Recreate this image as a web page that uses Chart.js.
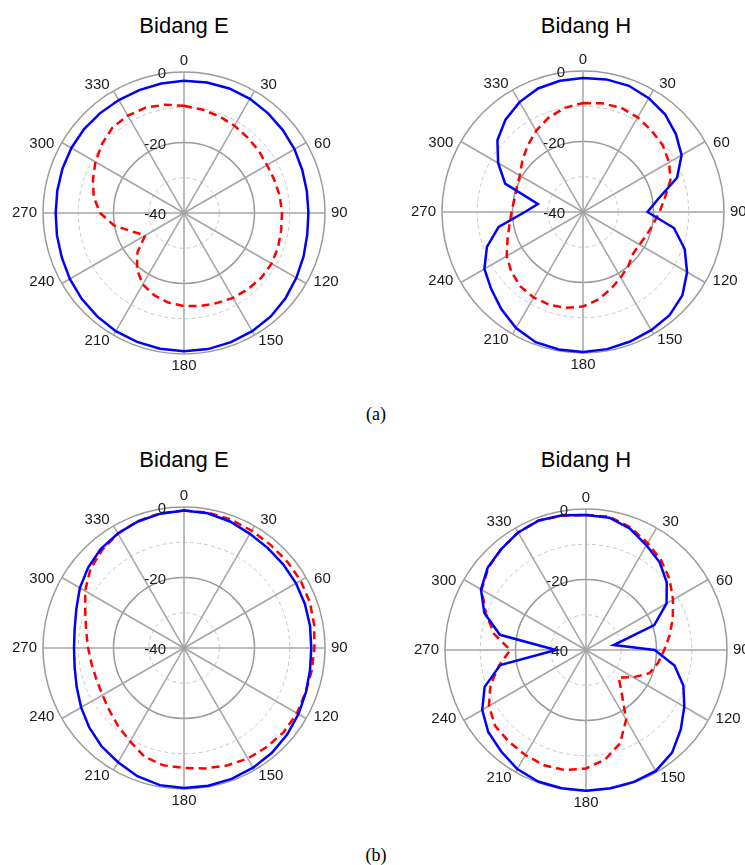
<!DOCTYPE html>
<html>
<head>
<meta charset="utf-8">
<script src="https://cdn.jsdelivr.net/npm/chart.js@4.4.0/dist/chart.umd.min.js"></script>
<style>
html, body { margin: 0; padding: 0; background: #fff; }
#page { position: relative; width: 745px; height: 865px; overflow: hidden; }
#page canvas { position: absolute; }
.title { position: absolute; font-family: "Liberation Sans", Arial, sans-serif; font-size: 22px; color: #000; transform: translate(-50%, -50%); white-space: nowrap; }
.cap { position: absolute; font-family: "Liberation Serif", "Times New Roman", serif; font-size: 18px; color: #000; transform: translate(-50%, -50%); }
</style>
</head>
<body>
<div id="page">
  <div class="title" style="left:184px;top:26px">Bidang E</div>
  <div class="title" style="left:586px;top:26px">Bidang H</div>
  <div class="title" style="left:184px;top:460px">Bidang E</div>
  <div class="title" style="left:586px;top:460px">Bidang H</div>
  <div class="cap" style="left:376px;top:414px">(a)</div>
  <div class="cap" style="left:376px;top:855px">(b)</div>
  <canvas id="eA" width="400" height="400"></canvas>
  <canvas id="hA" width="400" height="400"></canvas>
  <canvas id="eB" width="400" height="400"></canvas>
  <canvas id="hB" width="400" height="400"></canvas>
</div>
<script>
// angle of every sample (deg), and the ones that get a label
const angles = [0,10,20,30,40,50,60,70,80,90,100,110,120,130,140,150,160,170,
                180,190,200,210,220,230,240,250,260,270,280,290,300,310,320,330,340,350];
const angleTicks = [0,30,60,90,120,150,180,210,240,270,300,330];
const radialLabels = [-40,-20,0];

// (a) E plane, dB
const eaBlue = [-2.5,-2.4,-2.4,-2.6,-3.0,-3.4,-3.8,-4.3,-4.6,-4.7,-4.5,-3.9,-3.2,-2.4,-1.7,-1.3,-1.0,-0.8,
                -0.8,-0.9,-1.1,-1.3,-1.7,-2.1,-2.6,-3.1,-3.4,-3.6,-3.5,-3.3,-3.1,-3.0,-3.0,-3.0,-2.9,-2.7];
const eaRed = [-9.6,-10.2,-10.8,-11.4,-12.0,-12.4,-12.8,-12.7,-12.4,-12.2,-12.0,-11.6,-11.3,-11.4,-11.8,-12.2,-12.8,-13.2,
               -13.6,-14.2,-15.2,-16.6,-19.2,-22.8,-27.3,-24.5,-19.8,-16.2,-14.0,-12.5,-11.0,-9.6,-8.4,-8.1,-8.2,-8.8];
// (a) H plane
const haBlue = [-2.0,-1.8,-1.9,-2.7,-3.8,-5.6,-7.7,-11.6,-18.3,-21.7,-13.8,-9.3,-5.9,-3.2,-1.8,-1.3,-0.9,-0.5,
                -0.3,-0.4,-0.7,-2.0,-4.0,-6.0,-7.7,-11.0,-15.7,-23.5,-27.0,-16.5,-12.2,-8.3,-5.8,-4.0,-2.7,-2.2];
const haRed = [-9.1,-8.7,-8.5,-9.0,-9.8,-10.5,-11.8,-13.6,-16.4,-18.3,-19.8,-20.8,-21.5,-21.5,-20.0,-18.6,-16.8,-14.8,
               -13.2,-12.4,-12.0,-12.0,-12.4,-13.5,-15.0,-17.2,-18.8,-19.7,-20.2,-20.0,-19.3,-17.5,-15.5,-13.4,-11.5,-10.0];
// (b) E plane
const ebBlue = [-1.0,-1.2,-1.8,-2.6,-3.0,-3.2,-3.3,-3.5,-3.7,-3.9,-3.7,-3.2,-2.5,-1.8,-1.2,-0.8,-0.5,-0.3,
                -0.3,-0.5,-1.3,-2.6,-3.6,-4.9,-6.3,-7.6,-8.5,-8.8,-8.5,-7.5,-5.9,-4.5,-3.3,-2.5,-1.8,-1.3];
const ebRed = [-1.0,-1.0,-1.2,-1.6,-1.8,-1.8,-1.8,-2.0,-2.5,-3.0,-3.2,-3.3,-3.0,-3.0,-3.4,-3.8,-4.5,-5.3,
               -6.0,-6.2,-7.2,-9.4,-11.0,-12.4,-13.3,-13.6,-13.4,-12.8,-11.8,-10.2,-7.6,-5.3,-3.8,-2.5,-1.7,-1.2];
// (b) H plane
const hbBlue = [-1.7,-1.9,-3.4,-5.7,-7.5,-10.1,-13.6,-19.4,-32.0,-20.5,-14.5,-10.6,-7.8,-4.9,-2.0,-0.4,-0.2,-0.2,
                -0.1,-0.2,-0.3,-1.0,-2.5,-3.8,-6.0,-9.4,-15.3,-31.5,-15.2,-9.3,-5.6,-3.6,-2.6,-1.5,-0.9,-1.2];
const hbRed = [-1.7,-1.6,-3.0,-5.0,-6.8,-9.0,-11.5,-13.8,-15.9,-17.8,-19.2,-20.8,-24.5,-27.9,-24.3,-17.2,-11.8,-8.5,
               -6.4,-5.4,-5.2,-5.6,-6.0,-6.4,-8.2,-11.2,-15.0,-18.5,-13.5,-9.8,-5.8,-3.8,-2.6,-1.5,-0.9,-1.3];

const FONT = '"Liberation Sans", Arial, sans-serif';

// angle labels round the rim and dB labels left of the 0 spoke
const polarText = {
    id: 'polarText',
    afterDraw(chart) {
        const s = chart.scales.r;
        const ctx = chart.ctx;
        ctx.save();
        ctx.fillStyle = '#1a1a1a';
        ctx.font = '15px ' + FONT;
        ctx.textBaseline = 'middle';
        ctx.textAlign = 'center';
        angles.forEach((a, i) => {
            if (!angleTicks.includes(a)) return;
            let t = s.getIndexAngle(i);
            // labels sit a little off the spoke, towards the horizontal
            if (a % 90 !== 0) t += ((a % 180) < 90 ? 1 : -1) * 3 * Math.PI / 180;
            const txt = String(a);
            const w = ctx.measureText(txt).width;
            const d = s.drawingArea + 6;
            const x = s.xCenter + Math.sin(t) * d + Math.sin(t) * w / 2;
            const y = s.yCenter - Math.cos(t) * d - Math.cos(t) * 5.5;
            ctx.fillText(txt, x, y);
        });
        ctx.textAlign = 'right';
        radialLabels.forEach(v => {
            const y = s.yCenter - s.getDistanceFromCenterForValue(v) + 2;
            ctx.fillText(String(v), s.xCenter - 18, y);
        });
        ctx.restore();
    }
};

function polarChart(id, blue, red, cx, cy) {
    const canvas = document.getElementById(id);
    const chart = new Chart(canvas.getContext('2d'), {
        type: 'radar',
        data: {
            labels: angles,
            datasets: [
                { data: blue, borderColor: '#0000ff', borderWidth: 2.5, pointRadius: 0, fill: false },
                { data: red, borderColor: '#ff0000', borderWidth: 2.5, borderDash: [8, 5], pointRadius: 0, fill: false }
            ]
        },
        options: {
            responsive: false,
            animation: false,
            layout: { padding: 59 },
            elements: { line: { tension: 0 } },
            plugins: { legend: { display: false }, tooltip: { enabled: false } },
            scales: {
                r: {
                    min: -40,
                    max: 0,
                    ticks: { stepSize: 10, display: false },
                    pointLabels: { display: false },
                    grid: {
                        circular: true,
                        color: c => (c.tick.value % 20 === 0) ? '#9a9a9a' : '#c8c8c8',
                        lineWidth: c => (c.tick.value % 20 === 0) ? 1.5 : 1
                    },
                    border: { dash: c => (c.tick && c.tick.value % 20 !== 0) ? [4, 3] : [] },
                    angleLines: {
                        color: '#a4a4a4',
                        lineWidth: c => angleTicks.includes(angles[c.index]) ? 1.5 : 0
                    }
                }
            }
        },
        plugins: [polarText]
    });
    const s = chart.scales.r;
    canvas.style.left = (cx - s.xCenter) + 'px';
    canvas.style.top = (cy - s.yCenter) + 'px';
    return chart;
}

polarChart('eA', eaBlue, eaRed, 184, 213);
polarChart('hA', haBlue, haRed, 583, 212);
polarChart('eB', ebBlue, ebRed, 184, 648);
polarChart('hB', hbBlue, hbRed, 586, 650);
</script>
</body>
</html>
